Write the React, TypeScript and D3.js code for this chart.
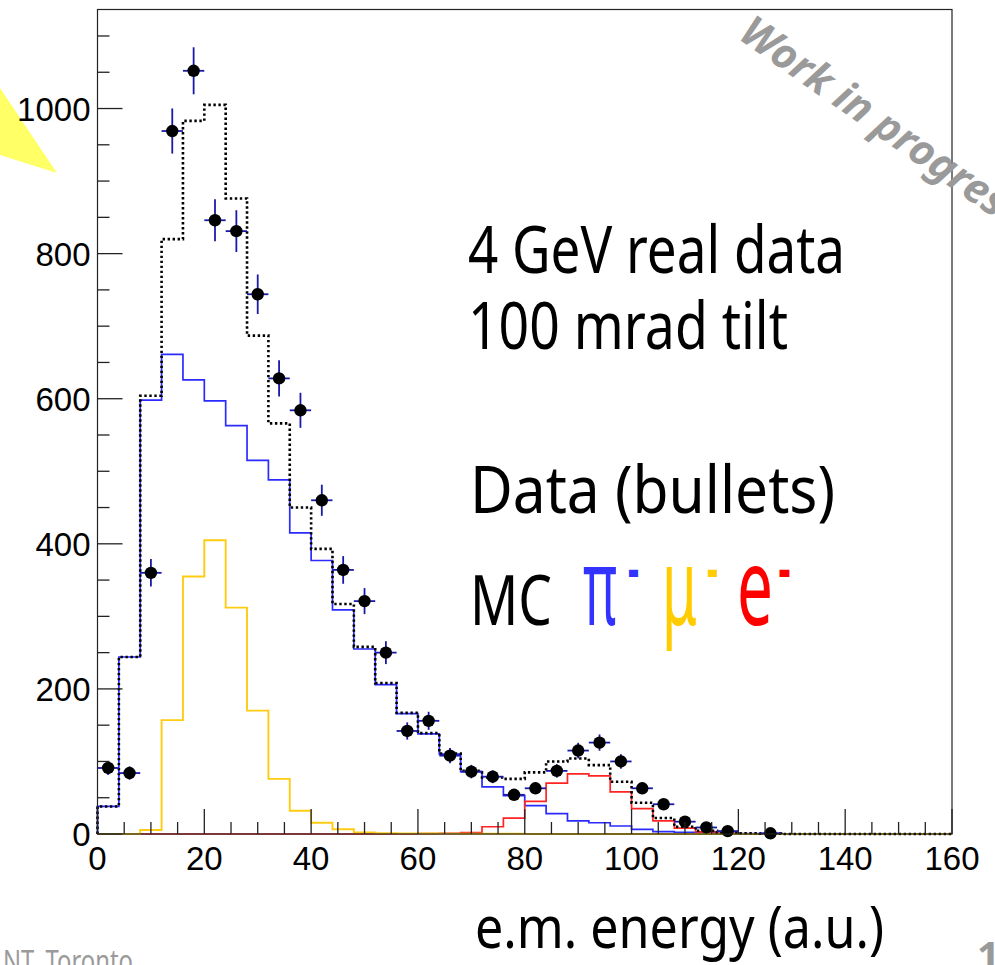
import React from "react";
import * as d3 from "d3";

// Energy histogram: 40 bins of width 4 a.u. from 0 to 160
const binEdges = d3.range(0, 160, 4);
const binWidth = 4;

// Data counts per bin (null = empty bin, no marker)
const dataCounts: (number | null)[] = [
  91, 84, 360, 969, 1052, 846, 831, 744, 628, 584,
  460, 364, 321, 250, 142, 156, 108, 86, 79, 54,
  63, 87, 115, 126, 100, 63, 41, 17, 9, 4,
  null, 1, null, null, null, null, null, null, null, null,
];

// MC pion contribution
const mcPion: number[] = [
  38, 244, 598, 661, 626, 597, 563, 515, 488, 415,
  377, 309, 255, 206, 166, 138, 110, 86, 65, 53,
  39, 28, 18, 15.5, 11, 6.5, 3.2, 2.4, 1.5, 1,
  0.5, 0.4, 0, 0, 0, 0, 0, 0, 0, 0,
];

// MC muon contribution
const mcMuon: number[] = [
  0, 0, 5.5, 157, 355, 405, 312, 170, 76, 32,
  15.6, 6.5, 2.3, 1.2, 0.8, 0.6, 0.5, 0.4, 0.3, 0.3,
  0, 0, 0, 0, 0, 0, 0, 0, 0, 0,
  0, 0, 0, 0, 0, 0, 0, 0, 0, 0,
];

// MC electron contribution
const mcElectron: number[] = [
  0, 0, 0, 0, 0, 0, 0, 0, 0, 0,
  0, 0, 0, 0, 0.2, 0.5, 1, 2, 10, 22,
  45, 70, 83, 80, 58, 35, 18, 8, 3, 1,
  0.3, 0, 0, 0, 0, 0, 0, 0, 0, 0,
];

// MC sum
const mcTotal: number[] = [
  38, 244, 604, 820, 983, 1005, 876, 687, 566, 450,
  393, 317, 258, 208, 167, 139, 111, 87, 78, 76,
  85, 100, 104, 95, 72, 43, 22, 10, 4.5, 2,
  1, 0.5, 0, 0, 0, 0, 0, 0, 0, 0,
];

const xMajorTicks = [0, 20, 40, 60, 80, 100, 120, 140, 160];
const yMajorTicks = [0, 200, 400, 600, 800, 1000];

const W = 995;
const H = 965;
const frame = { left: 97.5, right: 952, top: 9.5, bottom: 834 };

const x = d3.scaleLinear().domain([0, 160]).range([frame.left, frame.right]);
const y = d3.scaleLinear().domain([0, 1136.5]).range([frame.bottom, frame.top]);

const stepLine = d3
  .line<[number, number]>()
  .x((d) => x(d[0]))
  .y((d) => y(d[1]))
  .curve(d3.curveStepAfter);

function histPath(vals: number[]): string {
  const pts: [number, number][] = [[0, 0]];
  vals.forEach((v, i) => pts.push([binEdges[i], v]));
  pts.push([160, vals[vals.length - 1]]);
  pts.push([160, 0]);
  return stepLine(pts) || "";
}

const axisFont = "'Liberation Sans', Arial, Helvetica, sans-serif";
const textFont = "'Noto Sans', 'Open Sans', sans-serif";

export default function App() {
  const xMinor = d3.range(0, 160.01, 5).filter((v) => v % 20 !== 0);
  const yMinor = d3.range(0, 1136, 50).filter((v) => v % 200 !== 0);

  return (
    <div style={{ position: "absolute", left: 0, top: 0 }}>
      <svg width={W} height={H} style={{ display: "block", background: "#fff" }}>
        {/* pointer arrow tip at the left edge */}
        <polygon points="0,88 57,173 0,155" fill="#ffff66" />

        {/* histograms */}
        <path d={histPath(mcPion)} fill="none" stroke="#2b2bff" strokeWidth={1.7} />
        <path d={histPath(mcElectron)} fill="none" stroke="#ff2424" strokeWidth={1.7} />
        <path d={histPath(mcMuon)} fill="none" stroke="#ffcc11" strokeWidth={1.9} />
        <path
          d={histPath(mcTotal)}
          fill="none"
          stroke="#000"
          strokeWidth={2.6}
          strokeDasharray="2.4,2.6"
        />

        {/* data points with error bars */}
        {dataCounts.map((v, i) => {
          if (v === null) return null;
          const cx = binEdges[i] + binWidth / 2;
          const err = Math.sqrt(v);
          return (
            <g key={i}>
              <line
                x1={x(cx - binWidth / 2)}
                x2={x(cx + binWidth / 2)}
                y1={y(v)}
                y2={y(v)}
                stroke="#1a1aa8"
                strokeWidth={1.8}
              />
              <line
                x1={x(cx)}
                x2={x(cx)}
                y1={y(v - err)}
                y2={y(v + err)}
                stroke="#1a1aa8"
                strokeWidth={1.8}
              />
              <circle cx={x(cx)} cy={y(v)} r={6.2} fill="#000" />
            </g>
          );
        })}

        {/* frame */}
        <rect
          x={frame.left}
          y={frame.top}
          width={frame.right - frame.left}
          height={frame.bottom - frame.top}
          fill="none"
          stroke="#222"
          strokeWidth={1.2}
        />

        {/* y axis ticks */}
        {yMajorTicks.map((t) => (
          <g key={"ym" + t}>
            <line x1={frame.left} x2={frame.left + 25} y1={y(t)} y2={y(t)} stroke="#222" strokeWidth={1.3} />
            <text
              x={frame.left - 7}
              y={y(t) + 12}
              textAnchor="end"
              fontFamily={axisFont}
              fontSize={33}
              fill="#000"
            >
              {t}
            </text>
          </g>
        ))}
        {yMinor.map((t) => (
          <line key={"yn" + t} x1={frame.left} x2={frame.left + 12} y1={y(t)} y2={y(t)} stroke="#222" strokeWidth={1.3} />
        ))}

        {/* x axis ticks */}
        {xMajorTicks.map((t) => (
          <g key={"xm" + t}>
            <line x1={x(t)} x2={x(t)} y1={frame.bottom} y2={frame.bottom - 25} stroke="#222" strokeWidth={1.3} />
            <text
              x={x(t)}
              y={870}
              textAnchor="middle"
              fontFamily={axisFont}
              fontSize={33}
              fill="#000"
            >
              {t}
            </text>
          </g>
        ))}
        {xMinor.map((t) => (
          <line key={"xn" + t} x1={x(t)} x2={x(t)} y1={frame.bottom} y2={frame.bottom - 12} stroke="#222" strokeWidth={1.3} />
        ))}

        {/* annotations */}
        <text x={468} y={273} fontFamily={textFont} fontSize={66} textLength={377} lengthAdjust="spacingAndGlyphs" fill="#000">
          4 GeV real data
        </text>
        <text x={468} y={349} fontFamily={textFont} fontSize={66} textLength={320} lengthAdjust="spacingAndGlyphs" fill="#000">
          100 mrad tilt
        </text>
        <text x={470} y={513} fontFamily={textFont} fontSize={66} textLength={365} lengthAdjust="spacingAndGlyphs" fill="#000">
          Data (bullets)
        </text>
        <text x={470} y={625} fontFamily={textFont} fontSize={70} textLength={82} lengthAdjust="spacingAndGlyphs" fill="#000">
          MC
        </text>
        <text x={583} y={625} fontFamily={textFont} fontSize={108} textLength={34} lengthAdjust="spacingAndGlyphs" fill="#3333ff">
          π
        </text>
        <text x={628} y={589} fontFamily={textFont} fontWeight="bold" fontSize={60} textLength={11} lengthAdjust="spacingAndGlyphs" fill="#3333ff">
          -
        </text>
        <text x={662} y={625} fontFamily={textFont} fontSize={108} textLength={35} lengthAdjust="spacingAndGlyphs" fill="#ffcc00">
          μ
        </text>
        <text x={707} y={589} fontFamily={textFont} fontWeight="bold" fontSize={60} textLength={11} lengthAdjust="spacingAndGlyphs" fill="#ffcc00">
          -
        </text>
        <text x={737} y={625} fontFamily={textFont} fontSize={108} textLength={36} lengthAdjust="spacingAndGlyphs" fill="#ff0000">
          e
        </text>
        <text x={778.5} y={589} fontFamily={textFont} fontWeight="bold" fontSize={60} textLength={12} lengthAdjust="spacingAndGlyphs" fill="#ff0000">
          -
        </text>

        {/* axis title */}
        <text x={475} y={948} fontFamily={textFont} fontSize={58} textLength={409} lengthAdjust="spacingAndGlyphs" fill="#000">
          e.m. energy (a.u.)
        </text>

        {/* watermark */}
        <text
          transform="translate(737,38) rotate(35)"
          fontFamily={textFont}
          fontWeight="bold"
          fontStyle="italic"
          fontSize={42}
          textLength={335}
          lengthAdjust="spacingAndGlyphs"
          fill="#9a9a9a"
        >
          Work in progress
        </text>

        {/* footer */}
        <text x={3} y={972} fontFamily={textFont} fontSize={30} textLength={130} lengthAdjust="spacingAndGlyphs" fill="#9a9a9a">
          NT, Toronto
        </text>
        <text x={977} y={970} fontFamily={textFont} fontWeight="bold" fontSize={40} fill="#9a9a9a">
          1
        </text>
      </svg>
    </div>
  );
}
